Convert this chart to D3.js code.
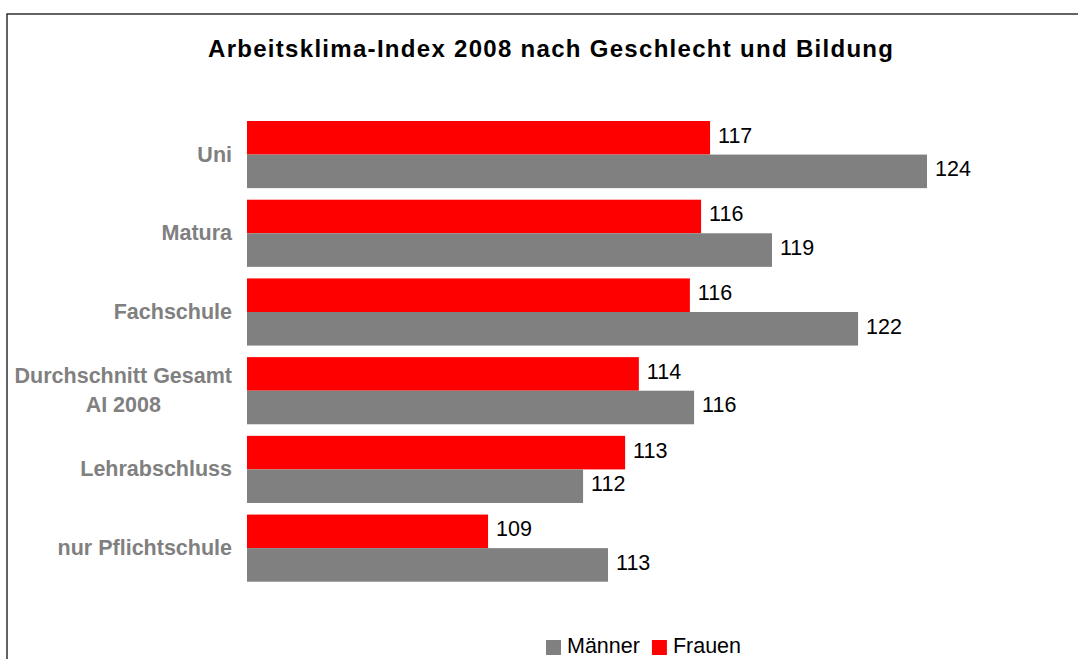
<!DOCTYPE html>
<html>
<head>
<meta charset="utf-8">
<script src="https://cdn.jsdelivr.net/npm/d3@7"></script>
<style>
  body { margin: 0; background: #fff; }
  svg { display: block; font-family: "Liberation Sans", Arial, Helvetica, sans-serif; }
</style>
</head>
<body>
<svg id="chart" width="1078" height="659"></svg>
<script>
// categories top to bottom, second line of a label after "\n"
var categories = ["Uni", "Matura", "Fachschule", "Durchschnitt Gesamt\nAI 2008", "Lehrabschluss", "nur Pflichtschule"];
var frauen = [116.52, 116.20, 115.80, 113.98, 113.49, 108.60];
var maenner = [124.26, 118.73, 121.80, 115.95, 111.99, 112.88];
var seriesNames = ["Männer", "Frauen"];
var seriesColors = {"Männer": "#808080", "Frauen": "#ff0000"};
var titleText = "Arbeitsklima-Index 2008 nach Geschlecht und Bildung";

var width = 1078, height = 659;
var svg = d3.select("#chart");

// outer frame, runs off the right and bottom edge like the screenshot
svg.append("rect")
    .attr("x", 7).attr("y", 14)
    .attr("width", 1090).attr("height", 670)
    .attr("fill", "none")
    .attr("stroke", "#222")
    .attr("stroke-width", 1.4);

svg.append("text")
    .attr("x", 550.5).attr("y", 57)
    .attr("text-anchor", "middle")
    .attr("font-size", 24)
    .attr("font-weight", "bold")
    .attr("textLength", 685)
    .attr("lengthAdjust", "spacing")
    .attr("fill", "#000")
    .text(titleText);

var x = d3.scaleLinear().domain([100, 125]).range([247, 947.75]);

var y = d3.scaleBand()
    .domain(categories)
    .range([121, 581.7])
    .paddingInner(0.147)
    .paddingOuter(0);

// Frauen on top, Männer below inside each group
var ySub = d3.scaleBand()
    .domain(["Frauen", "Männer"])
    .range([0, y.bandwidth()]);

var rows = categories.map(function(c, i) {
  return {cat: c, Frauen: frauen[i], "Männer": maenner[i]};
});

var fmt = d3.format(".0f");

var groups = svg.append("g").attr("class", "bars")
    .selectAll("g")
    .data(rows)
    .enter()
    .append("g")
    .attr("transform", function(d) { return "translate(0," + y(d.cat) + ")"; });

groups.selectAll("rect")
    .data(function(d) { return ["Frauen", "Männer"].map(function(s) { return {s: s, v: d[s]}; }); })
    .enter()
    .append("rect")
    .attr("x", x(100))
    .attr("y", function(d) { return ySub(d.s); })
    .attr("width", function(d) { return x(d.v) - x(100); })
    .attr("height", ySub.bandwidth())
    .attr("fill", function(d) { return seriesColors[d.s]; });

groups.selectAll("text")
    .data(function(d) { return ["Frauen", "Männer"].map(function(s) { return {s: s, v: d[s]}; }); })
    .enter()
    .append("text")
    .attr("x", function(d) { return x(d.v) + 8; })
    .attr("y", function(d) { return ySub(d.s) + ySub.bandwidth() / 2 + 5; })
    .attr("font-size", 21.5)
    .attr("fill", "#000")
    .text(function(d) { return fmt(d.v); });

// category labels: bold grey, right aligned block, lines centred on each other
var labelRight = 232;
var lineGap = 28.7;
categories.forEach(function(c) {
  var lines = c.split("\n");
  var cy = y(c) + y.bandwidth() / 2;
  var t = svg.append("text")
      .attr("font-size", 21.5)
      .attr("font-weight", "bold")
      .attr("fill", "#808080")
      .attr("text-anchor", "middle");
  lines.forEach(function(l, k) {
    t.append("tspan")
        .attr("y", cy + 7 + (k - (lines.length - 1) / 2) * lineGap)
        .text(l);
  });
  var w = 0;
  t.selectAll("tspan").each(function() { w = Math.max(w, this.getComputedTextLength()); });
  t.selectAll("tspan").attr("x", labelRight - w / 2);
});

// legend
var legend = svg.append("g").attr("class", "legend");
var lx = 546;
seriesNames.forEach(function(s) {
  legend.append("rect")
      .attr("x", lx).attr("y", 640)
      .attr("width", 15).attr("height", 15)
      .attr("fill", seriesColors[s]);
  var t = legend.append("text")
      .attr("x", lx + 21).attr("y", 652.5)
      .attr("font-size", 21.5)
      .attr("fill", "#000")
      .text(s);
  lx = lx + 21 + t.node().getComputedTextLength() + 12;
});
</script>
</body>
</html>
